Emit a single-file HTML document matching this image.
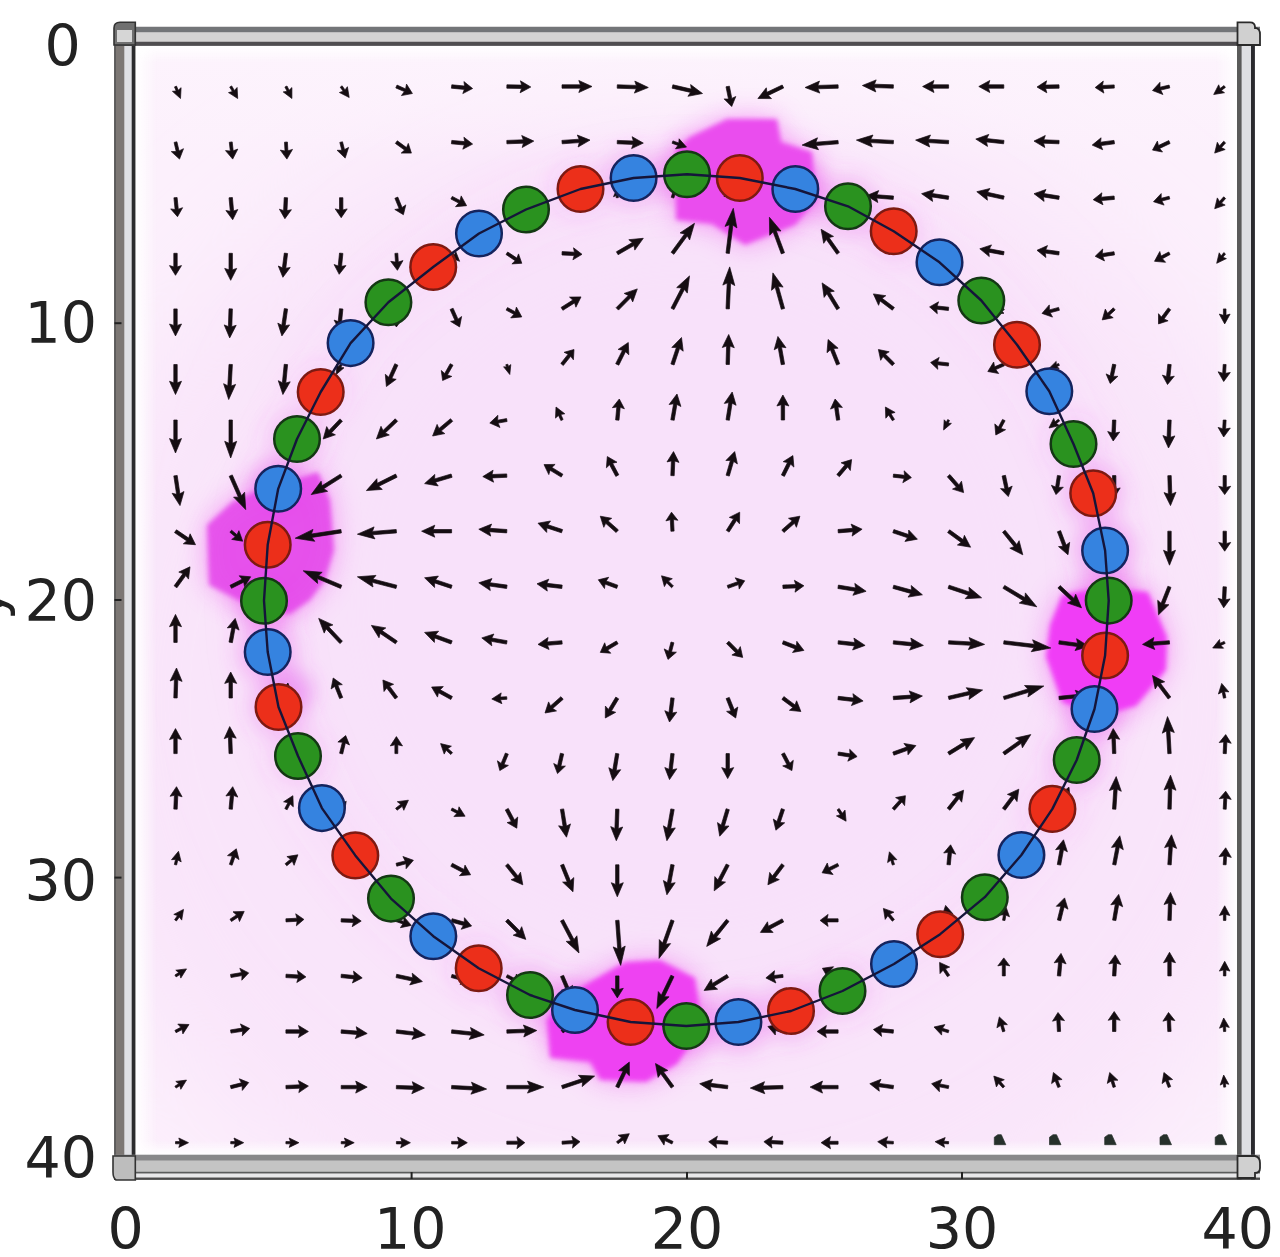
<!DOCTYPE html><html><head><meta charset="utf-8"><title>plot</title><style>html,body{margin:0;padding:0;background:#fff;overflow:hidden}svg{display:block}text{font-family:"DejaVu Sans","Liberation Sans",sans-serif;fill:#222}</style></head><body>
<svg width="1280" height="1257" viewBox="0 0 1280 1257">
<defs>
<filter id="bl1" x="-20%" y="-20%" width="140%" height="140%"><feGaussianBlur stdDeviation="2.5"/></filter>
<filter id="bl2" x="-50%" y="-50%" width="200%" height="200%"><feGaussianBlur stdDeviation="14"/></filter>
<filter id="bl3" x="-20%" y="-20%" width="140%" height="140%"><feGaussianBlur stdDeviation="22"/></filter>
<filter id="bl4" x="-30%" y="-30%" width="160%" height="160%"><feGaussianBlur stdDeviation="60"/></filter>
<filter id="bl5" x="-30%" y="-30%" width="160%" height="160%"><feGaussianBlur stdDeviation="9"/></filter>
<filter id="ar" x="-20%" y="-20%" width="140%" height="140%"><feGaussianBlur stdDeviation="0.5"/></filter>
<linearGradient id="gl" x1="0" x2="1" y1="0" y2="0"><stop offset="0" stop-color="#fff" stop-opacity="1"/><stop offset="1" stop-color="#fff" stop-opacity="0"/></linearGradient>
<linearGradient id="gr" x1="1" x2="0" y1="0" y2="0"><stop offset="0" stop-color="#fff" stop-opacity="1"/><stop offset="1" stop-color="#fff" stop-opacity="0"/></linearGradient>
<linearGradient id="gt" x1="0" x2="0" y1="0" y2="1"><stop offset="0" stop-color="#fff" stop-opacity="1"/><stop offset="1" stop-color="#fff" stop-opacity="0"/></linearGradient>
<linearGradient id="gb" x1="0" x2="0" y1="1" y2="0"><stop offset="0" stop-color="#fff" stop-opacity="1"/><stop offset="1" stop-color="#fff" stop-opacity="0"/></linearGradient>
<linearGradient id="gt2" x1="0" x2="0" y1="0" y2="1"><stop offset="0" stop-color="#fdf4fd" stop-opacity="0.9"/><stop offset="1" stop-color="#fdf4fd" stop-opacity="0"/></linearGradient>
<clipPath id="pa"><rect x="135" y="45" width="1103" height="1111"/></clipPath>
</defs>
<rect x="0" y="0" width="1280" height="1257" fill="#fff"/>
<g clip-path="url(#pa)">
<rect x="135" y="45" width="1103" height="1111" fill="#fcf0fc"/>
<ellipse cx="686" cy="700" rx="640" ry="600" fill="#f9e5fa" filter="url(#bl4)"/>
<circle cx="686" cy="601" r="400" fill="#f8e1fa" filter="url(#bl4)"/>
<rect x="135" y="45" width="1103" height="120" fill="url(#gt2)"/>
<polygon points="433.2,267.0 479.0,233.5 526.0,209.5 580.5,189.0 633.6,178.0 687.0,174.2 739.8,178.0 795.3,189.0 848.0,206.3 893.7,231.3 939.5,262.3 981.3,300.5 1017.0,344.7 1049.3,391.2 1073.5,444.0 1093.2,493.2 1105.1,550.5 1108.7,600.6 1105.1,655.5 1094.5,709.0 1076.7,760.0 1052.4,808.9 1021.4,855.0 984.8,897.2 940.2,934.2 894.0,964.0 842.5,991.0 791.0,1011.0 738.4,1022.0 686.3,1026.0 630.6,1022.0 575.0,1010.0 530.0,995.0 478.7,968.2 433.3,936.2 391.0,898.6 355.3,855.4 321.9,808.1 298.0,756.0 278.5,707.0 267.7,652.0 264.0,600.7 267.7,544.8 278.2,488.8 297.0,439.0 320.7,392.0 350.6,343.1 388.4,302.3" fill="none" stroke="#e860e8" stroke-width="50" stroke-opacity="0.05" filter="url(#bl3)"/>
<g filter="url(#bl5)">
<circle cx="580.5" cy="189.0" r="32" fill="#e850ec" opacity="0.08"/>
<circle cx="633.6" cy="178.0" r="32" fill="#e850ec" opacity="0.20"/>
<circle cx="687.0" cy="174.2" r="32" fill="#e850ec" opacity="0.35"/>
<circle cx="795.3" cy="189.0" r="32" fill="#e850ec" opacity="0.35"/>
<circle cx="848.0" cy="206.3" r="32" fill="#e850ec" opacity="0.22"/>
<circle cx="893.7" cy="231.3" r="32" fill="#e850ec" opacity="0.10"/>
<circle cx="1073.5" cy="444.0" r="32" fill="#e850ec" opacity="0.08"/>
<circle cx="1093.2" cy="493.2" r="32" fill="#e850ec" opacity="0.25"/>
<circle cx="1105.1" cy="550.5" r="32" fill="#e850ec" opacity="0.30"/>
<circle cx="1108.7" cy="600.6" r="32" fill="#e850ec" opacity="0.35"/>
<circle cx="1094.5" cy="709.0" r="32" fill="#e850ec" opacity="0.35"/>
<circle cx="1076.7" cy="760.0" r="32" fill="#e850ec" opacity="0.18"/>
<circle cx="1052.4" cy="808.9" r="32" fill="#e850ec" opacity="0.06"/>
<circle cx="842.5" cy="991.0" r="32" fill="#e850ec" opacity="0.10"/>
<circle cx="791.0" cy="1011.0" r="32" fill="#e850ec" opacity="0.20"/>
<circle cx="738.4" cy="1022.0" r="32" fill="#e850ec" opacity="0.28"/>
<circle cx="686.3" cy="1026.0" r="32" fill="#e850ec" opacity="0.35"/>
<circle cx="575.0" cy="1010.0" r="32" fill="#e850ec" opacity="0.35"/>
<circle cx="530.0" cy="995.0" r="32" fill="#e850ec" opacity="0.20"/>
<circle cx="478.7" cy="968.2" r="32" fill="#e850ec" opacity="0.08"/>
<circle cx="298.0" cy="756.0" r="32" fill="#e850ec" opacity="0.10"/>
<circle cx="278.5" cy="707.0" r="32" fill="#e850ec" opacity="0.20"/>
<circle cx="267.7" cy="652.0" r="32" fill="#e850ec" opacity="0.28"/>
<circle cx="264.0" cy="600.7" r="32" fill="#e850ec" opacity="0.35"/>
<circle cx="278.2" cy="488.8" r="32" fill="#e850ec" opacity="0.35"/>
<circle cx="297.0" cy="439.0" r="32" fill="#e850ec" opacity="0.15"/>
<circle cx="320.7" cy="392.0" r="32" fill="#e850ec" opacity="0.06"/>
<circle cx="292" cy="690" r="22" fill="#e050ec" opacity="0.35"/>
</g>
<polygon points="676,150 690,137 727,119 777,119 781,142 812,152 816,200 795,225 745,245 712,224 676,220" fill="#f050f0" opacity="0.55" filter="url(#bl2)"/>
<polygon points="1062,595 1100,588 1148,592 1167,637 1166,670 1136,706 1100,716 1062,702 1046,657 1050,625" fill="#f050f0" opacity="0.55" filter="url(#bl2)"/>
<polygon points="207,525 232,502 258,490 300,478 318,472 330,500 334,550 325,580 310,600 290,614 265,612 238,600 209,585" fill="#f050f0" opacity="0.55" filter="url(#bl2)"/>
<polygon points="561,1000 590,982 625,962 660,960 695,978 700,1012 690,1045 677,1064 646,1082 600,1080 590,1062 550,1058 547,1020" fill="#f050f0" opacity="0.55" filter="url(#bl2)"/>
<polygon points="676,150 690,137 727,119 777,119 781,142 812,152 816,200 795,225 745,245 712,224 676,220" fill="#ea4eee" opacity="1.00" filter="url(#bl1)"/>
<polygon points="1062,595 1100,588 1148,592 1167,637 1166,670 1136,706 1100,716 1062,702 1046,657 1050,625" fill="#f03cf6" opacity="1.00" filter="url(#bl1)"/>
<polygon points="207,525 232,502 258,490 300,478 318,472 330,500 334,550 325,580 310,600 290,614 265,612 238,600 209,585" fill="#e448ea" opacity="0.90" filter="url(#bl1)"/>
<polygon points="561,1000 590,982 625,962 660,960 695,978 700,1012 690,1045 677,1064 646,1082 600,1080 590,1062 550,1058 547,1020" fill="#ee42f2" opacity="1.00" filter="url(#bl1)"/>
<rect x="135" y="45" width="22" height="1111" fill="url(#gl)"/>
<rect x="1216" y="45" width="22" height="1111" fill="url(#gr)"/>
<rect x="135" y="45" width="1103" height="18" fill="url(#gt)"/>
<rect x="135" y="1140" width="1103" height="16" fill="url(#gb)"/>
<g fill="#150d12" stroke="#150d12" stroke-width="0.7" stroke-linejoin="round">
<polygon points="174.5,86.9 176.2,91.0 172.4,91.3 180.5,98.5 181.1,87.7 178.2,90.2 176.5,86.1"/>
<polygon points="174.1,142.4 176.2,151.5 171.3,151.6 179.5,159.1 183.5,148.7 179.1,150.9 176.9,141.8"/>
<polygon points="173.9,197.8 175.1,209.5 170.7,208.9 177.5,216.7 182.6,207.7 178.3,209.2 177.1,197.5"/>
<polygon points="173.8,253.3 173.8,266.8 169.5,265.6 175.5,275.3 181.5,265.6 177.2,266.8 177.2,253.3"/>
<polygon points="173.8,308.9 173.8,325.4 169.5,324.0 175.5,335.9 181.5,324.0 177.2,325.4 177.2,308.9"/>
<polygon points="173.8,364.5 173.8,382.8 169.5,381.3 175.5,394.5 181.5,381.3 177.2,382.8 177.2,364.5"/>
<polygon points="173.8,420.0 173.8,440.3 169.5,438.5 175.5,453.0 181.5,438.5 177.2,440.3 177.2,420.0"/>
<polygon points="173.8,475.9 176.6,494.3 172.1,493.3 180.0,505.6 184.0,491.5 179.9,493.8 177.2,475.4"/>
<polygon points="174.5,532.6 186.8,540.9 183.3,543.8 195.5,544.7 190.1,533.8 188.7,538.1 176.5,529.8"/>
<polygon points="176.9,587.8 185.8,575.6 188.5,579.1 190.0,566.8 178.8,572.1 183.0,573.6 174.1,585.8"/>
<polygon points="177.2,642.4 177.2,625.2 181.5,626.7 175.5,614.4 169.5,626.7 173.8,625.2 173.8,642.4"/>
<polygon points="177.2,698.0 177.8,679.7 182.1,681.4 176.5,668.0 170.1,681.0 174.4,679.5 173.8,697.9"/>
<polygon points="177.2,753.6 177.2,738.3 181.5,739.6 175.5,728.6 169.5,739.6 173.8,738.3 173.8,753.6"/>
<polygon points="177.2,809.2 177.8,795.5 182.1,796.8 176.5,786.7 170.1,796.3 174.4,795.3 173.8,809.1"/>
<polygon points="176.6,865.0 177.8,859.9 181.2,861.9 178.5,851.3 171.5,859.7 175.5,859.4 174.4,864.5"/>
<polygon points="176.4,921.0 179.4,917.0 181.7,920.1 183.5,909.4 173.8,914.4 177.5,915.6 174.6,919.7"/>
<polygon points="176.1,976.9 179.9,974.5 180.8,978.1 186.5,968.9 175.8,970.2 178.7,972.6 174.9,975.0"/>
<polygon points="176.1,1032.7 182.0,1029.6 182.9,1033.9 189.0,1024.5 177.8,1024.1 180.8,1027.3 174.9,1030.4"/>
<polygon points="176.1,1088.1 179.9,1085.7 180.8,1089.3 186.5,1080.1 175.8,1081.4 178.7,1083.8 174.9,1086.2"/>
<polygon points="175.5,1143.8 179.9,1143.8 178.8,1147.4 188.5,1142.7 178.8,1138.0 179.9,1141.6 175.5,1141.6"/>
<polygon points="229.7,87.1 232.4,91.6 228.5,92.6 237.7,98.5 237.1,87.5 234.4,90.5 231.7,85.9"/>
<polygon points="229.3,142.3 230.3,151.1 225.5,150.6 232.7,159.1 237.8,149.1 233.2,150.8 232.2,141.9"/>
<polygon points="229.0,197.8 230.3,211.3 225.9,210.5 232.7,219.7 237.8,209.5 233.6,211.0 232.4,197.5"/>
<polygon points="229.0,253.3 229.0,269.8 224.7,268.4 230.7,280.3 236.7,268.4 232.4,269.8 232.4,253.3"/>
<polygon points="229.0,308.8 228.4,326.6 224.2,324.9 229.7,337.9 236.2,325.3 231.8,326.7 232.4,308.9"/>
<polygon points="229.0,364.4 227.8,385.8 223.6,383.7 228.7,399.5 235.6,384.4 231.2,386.0 232.4,364.5"/>
<polygon points="229.0,420.0 229.0,443.3 224.7,441.3 230.7,458.0 236.7,441.3 232.4,443.3 232.4,420.0"/>
<polygon points="229.2,476.3 238.4,497.2 233.6,497.1 245.7,509.6 244.6,492.2 241.5,495.8 232.3,474.9"/>
<polygon points="229.9,532.2 235.3,536.8 231.7,539.4 242.7,541.2 238.9,530.7 237.0,534.8 231.6,530.2"/>
<polygon points="231.5,588.3 243.7,582.2 244.6,586.6 250.7,576.8 239.2,575.8 242.2,579.2 230.0,585.3"/>
<polygon points="232.4,642.7 235.1,628.0 239.1,630.1 235.2,618.4 227.3,627.9 231.8,627.4 229.0,642.1"/>
<polygon points="232.4,698.0 232.4,682.1 236.7,683.4 230.7,672.0 224.7,683.4 229.0,682.1 229.0,698.0"/>
<polygon points="232.4,753.5 231.8,737.0 236.2,738.2 229.7,726.6 224.2,738.7 228.4,737.1 229.0,753.6"/>
<polygon points="232.4,809.3 233.6,795.5 237.8,797.1 232.7,786.7 225.9,796.0 230.3,795.2 229.0,809.0"/>
<polygon points="232.1,865.2 235.0,857.0 239.0,859.6 236.3,848.8 227.5,855.6 232.2,856.1 229.4,864.3"/>
<polygon points="231.5,921.5 238.0,917.2 239.5,921.5 244.2,911.4 233.0,911.8 236.5,914.9 230.0,919.2"/>
<polygon points="231.0,977.5 242.0,975.6 241.8,980.2 248.7,972.9 239.8,968.3 241.5,972.6 230.5,974.4"/>
<polygon points="231.0,1033.1 242.6,1031.3 242.3,1035.8 249.7,1028.5 240.4,1023.9 242.1,1028.1 230.5,1029.9"/>
<polygon points="231.1,1088.7 242.1,1085.9 242.3,1090.4 248.7,1082.6 239.3,1078.8 241.4,1082.8 230.3,1085.6"/>
<polygon points="230.7,1143.8 235.1,1143.8 234.0,1147.4 243.7,1142.7 234.0,1138.0 235.1,1141.6 230.7,1141.6"/>
<polygon points="284.9,87.0 287.1,91.3 283.2,91.9 291.9,98.5 291.9,87.6 289.1,90.3 287.0,86.0"/>
<polygon points="284.5,142.2 285.0,151.0 280.3,150.1 286.9,159.1 292.5,149.4 287.9,150.8 287.4,142.0"/>
<polygon points="284.2,197.6 283.6,210.5 279.4,209.2 284.9,218.7 291.4,209.7 287.0,210.6 287.6,197.8"/>
<polygon points="284.3,253.1 282.4,267.8 278.3,266.0 282.9,277.3 290.2,267.5 285.8,268.2 287.6,253.5"/>
<polygon points="284.3,308.6 281.8,325.2 277.8,323.1 281.9,335.9 289.6,324.9 285.2,325.7 287.6,309.1"/>
<polygon points="284.2,364.3 282.4,382.7 278.3,380.7 282.9,394.5 290.2,381.8 285.8,383.0 287.6,364.6"/>
<polygon points="284.9,420.0 284.9,423.6 281.6,422.4 285.9,432.0 290.3,422.4 287.0,423.6 287.0,420.0"/>
<polygon points="285.4,474.8 283.9,475.7 283.3,472.9 277.9,480.6 287.3,479.2 285.0,477.4 286.5,476.5"/>
<polygon points="286.4,641.4 282.3,639.7 284.7,636.8 273.9,637.4 281.1,645.5 281.4,641.7 285.5,643.4"/>
<polygon points="287.2,698.2 288.1,691.7 292.1,693.4 287.9,683.0 281.3,691.9 285.5,691.3 284.7,697.8"/>
<polygon points="287.0,753.6 287.0,751.5 289.7,752.6 285.9,743.6 282.2,752.6 284.9,751.5 284.9,753.6"/>
<polygon points="287.1,809.8 290.1,803.9 293.3,806.8 292.9,795.7 283.6,801.8 287.9,802.7 284.8,808.6"/>
<polygon points="286.8,865.8 292.3,861.2 294.1,865.3 297.9,854.8 286.9,856.6 290.6,859.2 285.1,863.7"/>
<polygon points="286.0,921.9 297.1,921.3 296.4,925.8 303.9,919.4 295.7,913.8 296.9,918.2 285.9,918.8"/>
<polygon points="285.9,977.6 298.1,978.3 296.8,982.5 305.9,976.9 297.4,970.5 298.3,974.9 286.0,974.2"/>
<polygon points="285.9,1033.2 299.7,1033.2 298.5,1037.5 308.4,1031.5 298.5,1025.5 299.7,1029.8 285.9,1029.8"/>
<polygon points="286.0,1088.8 299.8,1088.2 298.8,1092.6 308.4,1086.1 298.3,1080.6 299.7,1084.8 285.9,1085.4"/>
<polygon points="285.9,1143.8 290.4,1143.8 289.2,1147.4 298.9,1142.7 289.2,1138.0 290.4,1141.6 285.9,1141.6"/>
<polygon points="340.2,87.2 343.2,91.2 339.4,92.5 349.2,97.5 347.4,86.7 345.0,89.9 342.1,85.8"/>
<polygon points="339.8,142.4 341.8,150.3 337.1,150.3 345.2,158.1 348.6,147.4 344.5,149.6 342.5,141.8"/>
<polygon points="339.5,197.7 339.5,209.9 335.2,208.9 341.2,217.7 347.2,208.9 342.9,209.9 342.9,197.7"/>
<polygon points="339.5,253.1 338.2,266.0 334.1,264.5 339.2,274.3 346.0,265.6 341.6,266.3 342.9,253.4"/>
<polygon points="339.5,308.7 338.2,321.6 334.1,320.1 339.2,329.9 346.0,321.2 341.6,321.9 342.9,309.0"/>
<polygon points="340.2,364.0 338.9,366.6 336.8,364.2 336.2,374.5 344.0,367.8 340.8,367.5 342.1,364.9"/>
<polygon points="339.9,418.9 328.9,430.5 326.7,426.6 323.2,439.0 335.4,434.8 331.4,432.9 342.4,421.2"/>
<polygon points="340.3,474.2 321.9,485.8 321.1,481.2 311.2,494.6 327.6,491.3 323.7,488.7 342.1,477.1"/>
<polygon points="340.9,529.5 311.4,534.0 313.0,529.4 295.2,538.2 314.8,541.3 311.9,537.4 341.4,532.9"/>
<polygon points="341.8,585.2 318.5,575.4 322.2,572.3 303.2,570.8 317.6,583.4 317.2,578.6 340.5,588.4"/>
<polygon points="342.4,641.2 328.6,626.5 332.9,624.9 318.7,618.4 324.2,633.1 326.1,628.9 339.9,643.6"/>
<polygon points="342.7,697.4 337.8,685.1 342.3,684.6 333.2,678.0 331.1,689.0 334.7,686.4 339.6,698.6"/>
<polygon points="342.7,754.0 345.4,742.9 349.5,745.0 345.7,735.6 337.9,742.0 342.4,742.2 339.6,753.2"/>
<polygon points="342.0,809.7 343.0,808.2 344.7,810.5 346.2,801.2 338.4,806.5 341.2,807.1 340.3,808.6"/>
<polygon points="341.6,865.7 344.2,864.4 344.6,867.6 351.2,859.8 341.0,860.4 343.3,862.5 340.7,863.8"/>
<polygon points="341.1,922.0 353.4,922.5 352.2,926.7 361.2,921.1 352.6,914.7 353.5,919.1 341.2,918.7"/>
<polygon points="341.0,977.6 353.9,978.9 352.4,983.0 362.2,977.9 353.5,971.1 354.2,975.5 341.3,974.2"/>
<polygon points="341.0,1033.2 357.0,1034.5 355.3,1038.6 367.2,1033.5 356.2,1026.7 357.2,1031.1 341.3,1029.8"/>
<polygon points="341.2,1088.8 357.1,1088.8 355.7,1093.1 367.2,1087.1 355.7,1081.1 357.1,1085.4 341.2,1085.4"/>
<polygon points="341.2,1143.8 345.6,1143.8 344.4,1147.4 354.2,1142.7 344.4,1138.0 345.6,1141.6 341.2,1141.6"/>
<polygon points="395.8,87.9 404.4,91.6 401.4,95.6 412.4,93.5 406.5,84.1 405.6,88.9 397.0,85.1"/>
<polygon points="395.4,143.4 404.6,150.1 401.2,153.1 411.4,153.1 408.3,143.4 406.5,147.6 397.3,140.8"/>
<polygon points="394.9,198.3 399.2,208.7 394.8,209.5 403.4,214.7 405.8,204.9 402.1,207.5 397.8,197.1"/>
<polygon points="394.9,253.4 395.5,262.1 390.7,261.3 397.4,270.3 403.0,260.6 398.3,262.0 397.8,253.2"/>
<polygon points="394.9,308.9 394.9,319.9 390.4,318.9 396.4,326.9 402.4,318.9 397.9,319.9 397.9,308.9"/>
<polygon points="394.8,363.7 388.7,377.2 385.3,374.3 386.4,386.5 396.2,379.3 391.8,378.6 397.9,365.2"/>
<polygon points="395.2,418.8 383.0,430.5 381.0,426.3 376.4,439.0 389.3,435.0 385.3,432.9 397.6,421.3"/>
<polygon points="395.6,474.1 377.2,483.3 376.9,478.7 366.4,490.6 382.3,489.4 378.8,486.3 397.1,477.2"/>
<polygon points="396.2,529.5 372.4,531.4 374.1,526.9 357.4,534.2 375.0,538.9 372.6,534.8 396.5,532.9"/>
<polygon points="396.8,585.2 372.9,579.0 376.0,575.4 357.4,576.8 373.0,587.0 372.1,582.3 396.0,588.5"/>
<polygon points="397.3,641.0 382.0,630.6 385.8,627.9 371.4,625.4 379.0,637.8 380.1,633.4 395.4,643.8"/>
<polygon points="397.7,697.0 389.5,685.9 393.6,684.3 382.9,680.0 384.0,691.5 386.7,688.0 395.0,699.0"/>
<polygon points="397.8,753.6 397.8,744.8 402.5,745.9 396.4,736.6 390.3,745.9 394.9,744.8 394.9,753.6"/>
<polygon points="397.1,810.2 402.3,806.3 403.8,810.3 408.4,800.2 397.3,801.7 400.8,804.3 395.6,808.2"/>
<polygon points="396.8,866.2 406.0,863.8 406.1,868.7 413.4,860.3 402.9,856.5 405.2,860.9 396.0,863.3"/>
<polygon points="396.0,921.6 402.9,923.9 400.4,927.7 411.4,925.4 404.0,916.9 403.8,921.4 396.8,919.1"/>
<polygon points="396.0,977.6 412.0,981.0 409.7,984.9 422.4,981.5 412.2,973.2 412.7,977.7 396.7,974.3"/>
<polygon points="396.2,1033.2 414.0,1035.3 411.9,1039.4 425.4,1034.9 413.3,1027.5 414.3,1031.9 396.6,1029.8"/>
<polygon points="396.3,1088.8 413.5,1089.4 411.8,1093.7 424.4,1088.1 412.3,1081.7 413.6,1086.0 396.4,1085.4"/>
<polygon points="396.4,1143.9 401.8,1143.9 400.6,1147.8 410.4,1142.7 400.6,1137.7 401.8,1141.5 396.4,1141.5"/>
<polygon points="451.4,88.2 464.3,89.4 462.8,93.6 472.6,88.5 463.9,81.6 464.6,86.0 451.8,84.8"/>
<polygon points="451.4,143.8 464.3,145.0 462.8,149.2 472.6,144.1 463.9,137.2 464.6,141.6 451.8,140.4"/>
<polygon points="450.9,199.0 458.7,203.1 455.5,206.7 466.6,205.7 461.2,195.9 460.0,200.5 452.3,196.4"/>
<polygon points="450.9,254.0 453.0,256.1 450.0,257.5 459.6,261.3 455.8,251.7 454.4,254.7 452.3,252.5"/>
<polygon points="450.1,309.5 455.0,320.6 450.6,321.4 459.6,326.9 461.6,316.5 458.0,319.2 453.1,308.2"/>
<polygon points="450.2,363.7 444.7,373.5 441.3,370.5 442.6,380.5 451.8,376.4 447.4,375.0 453.0,365.2"/>
<polygon points="450.5,418.7 438.9,428.5 437.1,424.4 432.6,436.0 444.8,433.6 441.1,431.1 452.7,421.3"/>
<polygon points="451.1,474.0 434.6,478.9 434.8,474.4 424.6,483.6 438.2,485.9 435.5,482.2 452.1,477.3"/>
<polygon points="451.6,529.5 433.2,529.5 434.8,525.2 421.6,531.2 434.8,537.2 433.2,532.9 451.6,532.9"/>
<polygon points="452.1,585.2 435.6,579.7 438.4,576.1 424.6,577.8 434.6,587.5 434.5,582.9 451.1,588.4"/>
<polygon points="452.2,640.8 435.6,634.7 438.6,631.2 424.6,632.4 434.4,642.4 434.5,637.9 451.0,644.0"/>
<polygon points="452.4,696.5 440.2,689.8 443.3,686.6 431.6,687.0 437.5,697.1 438.5,692.7 450.8,699.5"/>
<polygon points="452.5,752.6 447.8,748.4 451.4,746.2 440.6,743.6 444.2,754.1 446.1,750.3 450.8,754.5"/>
<polygon points="451.0,810.3 456.9,813.4 453.9,816.6 465.1,816.2 459.0,806.8 458.1,811.1 452.2,808.0"/>
<polygon points="450.8,866.3 462.5,872.4 459.4,875.7 470.6,874.8 465.0,865.1 464.0,869.4 452.4,863.3"/>
<polygon points="451.1,922.0 463.4,925.4 461.2,929.3 471.6,926.0 464.4,917.7 464.3,922.1 452.1,918.7"/>
<polygon points="451.2,977.5 462.2,980.5 460.1,984.5 469.6,980.9 463.3,973.0 463.1,977.5 452.0,974.4"/>
<polygon points="451.4,1033.2 471.4,1035.3 469.2,1039.4 484.2,1034.9 470.5,1027.5 471.8,1031.9 451.8,1029.8"/>
<polygon points="451.5,1088.8 473.0,1090.0 470.9,1094.2 486.6,1089.1 471.5,1082.2 473.1,1086.6 451.7,1085.4"/>
<polygon points="451.6,1144.0 458.8,1144.0 457.6,1148.4 467.3,1142.7 457.6,1137.1 458.8,1141.4 451.6,1141.4"/>
<polygon points="506.8,88.2 521.5,88.5 520.1,92.8 530.8,87.0 520.4,80.8 521.6,85.1 506.9,84.8"/>
<polygon points="506.9,143.8 523.4,143.2 522.2,147.5 533.8,141.1 521.7,135.5 523.3,139.8 506.8,140.4"/>
<polygon points="506.1,199.2 518.3,205.3 515.3,208.6 526.8,207.7 520.7,197.9 519.8,202.3 507.6,196.2"/>
<polygon points="506.0,254.5 515.2,260.7 511.9,263.9 521.8,263.3 518.5,253.9 516.9,258.1 507.7,252.0"/>
<polygon points="506.1,310.1 513.9,314.3 510.7,317.9 521.8,316.9 516.4,307.1 515.2,311.7 507.5,307.6"/>
<polygon points="505.8,364.7 506.5,367.0 503.6,366.8 509.8,374.5 510.8,364.6 508.5,366.4 507.8,364.2"/>
<polygon points="506.6,418.6 497.6,420.2 497.9,415.3 489.8,423.0 500.0,427.5 498.1,423.1 507.1,421.5"/>
<polygon points="506.7,473.9 492.0,474.5 493.1,470.2 482.8,476.6 493.6,482.2 492.2,477.9 506.9,477.3"/>
<polygon points="506.9,529.5 489.8,528.3 491.6,524.1 478.8,529.2 490.7,536.1 489.5,531.7 506.7,532.9"/>
<polygon points="507.1,585.1 489.9,582.7 492.0,578.6 478.8,582.8 490.3,590.5 489.4,586.0 506.6,588.5"/>
<polygon points="507.1,640.7 491.8,638.0 493.9,634.0 481.8,637.9 491.8,645.8 491.2,641.3 506.5,644.1"/>
<polygon points="506.7,696.7 500.3,697.1 501.2,692.9 491.8,699.0 501.9,703.7 500.5,699.7 506.9,699.3"/>
<polygon points="505.4,753.0 501.1,763.4 497.4,760.8 499.8,770.6 508.4,765.4 504.0,764.6 508.3,754.2"/>
<polygon points="505.3,810.0 511.4,821.6 507.1,822.6 516.8,828.2 517.7,817.0 514.5,820.0 508.3,808.4"/>
<polygon points="505.5,865.8 515.3,878.1 511.1,879.7 522.8,884.8 520.5,872.2 518.0,876.0 508.1,863.7"/>
<polygon points="505.6,921.6 517.3,933.2 513.2,935.2 525.8,939.4 521.7,926.7 519.7,930.8 508.0,919.1"/>
<polygon points="506.1,977.2 513.9,981.3 510.7,984.9 521.8,983.9 516.4,974.1 515.2,978.8 507.5,974.7"/>
<polygon points="506.9,1033.2 525.3,1032.6 523.8,1037.0 536.8,1030.5 523.4,1025.0 525.1,1029.2 506.8,1029.8"/>
<polygon points="506.8,1088.8 529.5,1088.8 527.5,1093.1 543.8,1087.1 527.5,1081.1 529.5,1085.4 506.8,1085.4"/>
<polygon points="506.8,1144.2 517.9,1144.2 516.9,1148.7 524.8,1142.7 516.9,1136.7 517.9,1141.2 506.8,1141.2"/>
<polygon points="562.0,88.2 580.4,88.2 578.8,92.5 592.0,86.5 578.8,80.5 580.4,84.8 562.0,84.8"/>
<polygon points="562.2,143.8 579.3,142.6 578.1,147.0 590.0,140.1 577.3,135.0 579.1,139.2 561.9,140.4"/>
<polygon points="561.8,198.7 565.5,199.6 563.6,202.7 574.0,200.7 565.7,194.0 566.0,197.6 562.3,196.7"/>
<polygon points="562.0,255.0 574.2,255.6 572.9,259.8 582.0,254.3 573.5,247.8 574.4,252.2 562.1,251.6"/>
<polygon points="562.9,310.3 574.6,302.9 575.9,307.2 581.0,296.9 569.5,297.1 572.8,300.1 561.1,307.4"/>
<polygon points="563.3,365.5 570.7,356.3 573.4,359.8 574.0,349.5 564.1,352.3 568.1,354.2 560.8,363.4"/>
<polygon points="563.1,419.5 560.8,414.4 564.8,413.8 556.0,407.0 555.5,418.1 558.5,415.4 560.9,420.6"/>
<polygon points="562.9,474.2 551.9,467.4 555.1,464.4 544.0,464.6 548.8,474.6 550.1,470.3 561.2,477.1"/>
<polygon points="562.6,529.6 547.9,524.7 550.5,521.0 538.0,523.2 546.7,532.4 546.8,527.9 561.5,532.8"/>
<polygon points="562.2,585.1 546.9,583.3 548.8,579.2 537.0,583.8 547.3,591.1 546.5,586.7 561.8,588.5"/>
<polygon points="561.9,640.7 547.2,641.9 548.1,637.5 538.0,644.4 549.1,649.5 547.5,645.3 562.2,644.1"/>
<polygon points="560.9,696.7 550.5,705.9 548.6,701.9 545.0,713.0 556.5,710.9 552.7,708.5 563.2,699.3"/>
<polygon points="560.4,753.2 557.6,765.5 553.7,763.5 557.5,773.6 565.4,766.1 560.9,766.2 563.7,754.0"/>
<polygon points="560.4,809.4 563.1,826.6 558.6,825.8 566.5,837.2 570.5,823.9 566.5,826.1 563.7,808.9"/>
<polygon points="560.5,865.4 567.2,881.9 562.6,882.1 573.0,891.8 573.8,877.6 570.4,880.7 563.6,864.1"/>
<polygon points="560.5,921.1 571.0,941.1 566.2,941.4 579.0,953.0 576.9,935.8 574.0,939.5 563.5,919.6"/>
<polygon points="560.5,976.6 566.0,989.5 561.6,990.1 571.0,996.9 572.6,985.3 569.1,988.1 563.6,975.3"/>
<polygon points="563.1,1032.9 575.3,1023.7 576.8,1027.9 582.0,1016.5 569.6,1018.3 573.3,1021.0 561.0,1030.2"/>
<polygon points="562.6,1088.7 582.6,1082.0 582.2,1086.6 594.6,1076.1 578.4,1075.3 581.5,1078.8 561.5,1085.5"/>
<polygon points="562.1,1144.2 573.2,1143.6 572.5,1148.1 580.0,1141.7 571.8,1136.2 573.0,1140.6 562.0,1141.2"/>
<polygon points="617.2,88.2 636.2,88.8 634.4,93.1 648.3,87.5 634.8,81.1 636.3,85.4 617.3,84.8"/>
<polygon points="617.2,143.8 633.1,144.4 631.6,148.6 643.3,143.1 632.1,136.7 633.3,141.0 617.3,140.4"/>
<polygon points="618.3,197.7 618.3,195.6 621.0,196.7 617.3,187.7 613.5,196.7 616.2,195.6 616.2,197.7"/>
<polygon points="618.1,254.7 634.0,245.6 634.8,250.1 643.3,238.3 628.8,239.7 632.3,242.6 616.4,251.8"/>
<polygon points="618.5,310.1 630.7,297.8 632.7,301.9 637.3,288.9 624.2,293.4 628.3,295.4 616.1,307.7"/>
<polygon points="618.8,365.2 625.5,351.7 628.8,354.8 628.3,342.5 618.1,349.4 622.5,350.2 615.7,363.7"/>
<polygon points="619.0,420.2 620.2,407.3 624.4,408.8 619.3,399.0 612.4,407.7 616.8,407.0 615.6,419.9"/>
<polygon points="618.8,474.8 612.6,463.2 617.0,462.2 607.3,456.6 606.4,467.8 609.6,464.8 615.8,476.4"/>
<polygon points="618.4,529.9 608.0,520.8 611.7,518.3 600.3,516.2 603.8,527.3 605.7,523.3 616.1,532.5"/>
<polygon points="617.8,585.2 606.2,580.9 608.7,577.3 598.3,579.8 604.5,588.5 605.0,584.1 616.7,588.4"/>
<polygon points="616.4,641.0 606.0,647.1 604.7,642.8 600.3,652.4 610.8,653.2 607.7,650.0 618.1,643.8"/>
<polygon points="615.8,697.1 608.4,709.4 605.4,706.1 605.3,718.0 615.7,712.3 611.4,711.1 618.7,698.9"/>
<polygon points="615.6,753.3 612.8,769.8 608.8,767.7 612.8,780.6 620.7,769.7 616.2,770.4 618.9,753.9"/>
<polygon points="615.6,809.1 614.9,828.4 610.7,826.6 616.3,840.7 622.7,827.0 618.3,828.5 619.0,809.2"/>
<polygon points="615.6,864.8 615.6,884.4 611.3,882.7 617.3,896.8 623.3,882.7 619.0,884.4 619.0,864.8"/>
<polygon points="615.6,920.5 617.7,948.8 613.2,946.9 620.7,965.4 625.2,946.0 621.1,948.5 619.0,920.2"/>
<polygon points="615.6,975.9 615.6,989.4 611.3,988.3 617.3,997.9 623.3,988.3 619.0,989.4 619.0,975.9"/>
<polygon points="618.3,1031.5 618.3,1029.5 621.0,1030.5 617.3,1021.5 613.5,1030.5 616.2,1029.5 616.2,1031.5"/>
<polygon points="618.8,1087.9 626.1,1072.5 629.4,1075.7 629.3,1062.1 618.6,1070.5 623.1,1071.1 615.7,1086.4"/>
<polygon points="618.0,1143.7 623.2,1139.9 624.7,1143.9 629.3,1133.7 618.2,1135.2 621.6,1137.8 616.5,1141.7"/>
<polygon points="672.1,88.2 690.5,92.4 687.9,96.3 702.5,93.5 690.6,84.6 691.3,89.1 672.9,84.8"/>
<polygon points="672.1,143.3 678.0,145.4 675.5,148.8 686.5,147.1 679.1,138.8 678.8,143.0 672.9,140.9"/>
<polygon points="673.8,198.1 676.1,191.1 679.8,193.6 677.5,182.7 669.0,190.0 673.5,190.3 671.2,197.3"/>
<polygon points="673.9,254.3 687.3,235.9 689.6,240.0 694.5,223.3 680.0,232.9 684.6,233.9 671.1,252.3"/>
<polygon points="674.0,309.6 684.4,289.4 687.3,293.1 689.5,275.9 676.7,287.6 681.4,287.9 671.0,308.1"/>
<polygon points="674.1,365.0 679.6,348.4 683.2,351.2 681.5,337.5 671.8,347.4 676.4,347.4 670.9,363.9"/>
<polygon points="674.2,420.3 676.9,404.4 680.9,406.5 677.0,394.0 669.1,404.5 673.6,403.8 670.8,419.8"/>
<polygon points="674.2,475.7 674.8,461.0 679.0,462.4 673.5,451.6 667.0,461.9 671.4,460.9 670.8,475.6"/>
<polygon points="674.1,531.1 673.5,519.5 677.9,520.3 671.5,512.2 665.9,520.9 670.3,519.7 670.9,531.3"/>
<polygon points="673.4,585.9 668.4,580.9 672.3,578.7 661.5,575.8 664.4,586.6 666.6,582.8 671.5,587.7"/>
<polygon points="671.0,642.0 668.6,651.2 664.2,648.9 668.0,659.4 676.4,652.2 671.5,652.0 673.9,642.8"/>
<polygon points="670.8,697.8 669.0,712.5 664.8,710.7 669.5,722.0 676.8,712.2 672.3,712.9 674.2,698.2"/>
<polygon points="670.8,753.4 669.0,769.3 664.8,767.5 669.5,779.6 676.8,768.8 672.3,769.7 674.2,753.8"/>
<polygon points="670.8,808.9 667.4,828.2 663.4,825.8 666.9,840.7 675.3,827.9 670.7,828.8 674.2,809.5"/>
<polygon points="670.8,864.4 667.4,882.8 663.4,880.5 666.9,894.8 675.2,882.7 670.7,883.5 674.2,865.1"/>
<polygon points="670.9,919.8 662.6,943.1 659.3,939.6 659.0,958.4 670.6,943.6 665.8,944.2 674.1,920.9"/>
<polygon points="670.9,975.2 661.3,995.2 658.3,991.6 656.8,1008.5 669.1,996.8 664.4,996.7 674.0,976.7"/>
<polygon points="672.9,1030.6 670.3,1029.3 672.7,1027.1 662.5,1026.5 669.1,1034.3 669.4,1031.1 672.0,1032.4"/>
<polygon points="673.9,1086.1 663.4,1071.7 667.8,1070.4 655.5,1063.5 658.1,1077.4 660.7,1073.7 671.1,1088.1"/>
<polygon points="673.1,1141.5 666.1,1138.1 669.0,1134.6 657.9,1135.7 664.0,1145.1 664.9,1140.6 671.9,1144.0"/>
<polygon points="726.0,86.8 728.5,99.1 724.1,98.9 731.7,106.5 735.8,96.5 731.8,98.4 729.4,86.2"/>
<polygon points="728.7,197.7 728.7,195.6 731.5,196.7 727.7,187.7 724.0,196.7 726.7,195.6 726.7,197.7"/>
<polygon points="729.4,253.5 732.9,225.1 736.9,227.9 733.3,208.3 725.0,226.4 729.5,224.7 726.0,253.1"/>
<polygon points="729.4,308.9 730.6,283.2 734.8,285.6 729.7,266.9 722.8,285.1 727.2,283.0 726.0,308.8"/>
<polygon points="729.4,364.5 730.0,346.1 734.3,347.8 728.7,334.5 722.3,347.5 726.6,346.0 726.0,364.4"/>
<polygon points="729.4,420.3 732.1,403.2 736.1,405.3 732.2,392.0 724.3,403.4 728.8,402.6 726.0,419.8"/>
<polygon points="729.3,476.1 733.6,461.4 737.4,463.9 734.7,451.6 725.9,460.5 730.4,460.4 726.1,475.2"/>
<polygon points="729.1,532.1 736.5,520.5 739.5,523.8 739.7,512.2 729.3,517.4 733.6,518.7 726.3,530.3"/>
<polygon points="728.2,588.3 738.6,584.6 739.2,589.1 744.7,580.8 735.2,577.8 737.6,581.7 727.2,585.4"/>
<polygon points="726.5,643.6 735.7,652.8 731.9,655.0 742.7,657.4 740.3,646.6 738.1,650.4 728.9,641.2"/>
<polygon points="726.1,698.6 731.0,710.9 726.6,711.4 735.7,718.0 737.8,707.0 734.2,709.6 729.3,697.4"/>
<polygon points="726.0,753.6 726.0,768.9 721.7,767.6 727.7,778.6 733.7,767.6 729.4,768.9 729.4,753.6"/>
<polygon points="726.1,808.7 721.2,825.2 717.5,822.6 719.7,836.2 729.0,826.0 724.4,826.2 729.3,809.7"/>
<polygon points="726.2,864.0 717.9,879.9 714.8,876.6 714.2,890.8 725.5,882.1 720.9,881.5 729.2,865.5"/>
<polygon points="726.4,919.3 713.5,935.2 711.3,931.1 706.7,946.4 720.6,938.7 716.2,937.4 729.0,921.4"/>
<polygon points="726.8,974.5 712.3,983.4 711.3,979.0 704.1,990.5 717.6,989.2 714.1,986.3 728.6,977.4"/>
<polygon points="728.0,1030.6 725.7,1029.9 727.6,1027.6 717.7,1028.5 725.4,1034.8 725.1,1031.8 727.4,1032.5"/>
<polygon points="727.9,1085.4 710.7,1083.3 712.7,1079.3 699.7,1083.7 711.3,1091.2 710.3,1086.7 727.5,1088.8"/>
<polygon points="727.8,1141.1 716.1,1140.5 717.4,1136.2 708.7,1141.7 716.7,1148.1 716.0,1143.7 727.6,1144.3"/>
<polygon points="782.2,85.0 766.9,92.3 766.3,87.8 757.9,98.5 771.5,98.6 768.3,95.4 783.7,88.0"/>
<polygon points="783.6,197.0 782.7,196.0 785.2,194.6 777.9,192.7 779.9,199.9 781.2,197.4 782.2,198.4"/>
<polygon points="784.5,252.7 776.2,230.6 781.0,231.0 769.4,217.3 769.7,235.2 773.1,231.8 781.3,253.9"/>
<polygon points="784.6,308.4 778.4,286.3 783.1,287.1 772.9,272.9 771.5,290.3 775.2,287.3 781.3,309.3"/>
<polygon points="784.6,364.2 781.5,347.0 786.0,347.7 777.9,336.5 774.2,349.8 778.2,347.6 781.2,364.7"/>
<polygon points="784.6,420.0 784.6,404.7 788.9,406.0 782.9,395.0 776.9,406.0 781.2,404.7 781.2,420.0"/>
<polygon points="784.4,476.4 790.6,464.1 793.9,467.1 792.9,455.6 783.2,461.7 787.5,462.6 781.4,474.9"/>
<polygon points="784.0,532.5 794.5,523.3 796.4,527.3 799.9,516.2 788.5,518.3 792.2,520.8 781.8,529.9"/>
<polygon points="783.0,588.5 795.9,587.9 795.0,592.2 803.9,585.8 794.4,580.3 795.7,584.5 782.8,585.1"/>
<polygon points="782.3,644.0 795.2,648.9 792.5,652.5 803.9,650.4 796.8,641.3 796.4,645.7 783.5,640.8"/>
<polygon points="781.9,699.4 792.9,707.6 789.4,710.3 800.9,711.5 796.6,700.8 795.0,704.9 783.9,696.6"/>
<polygon points="781.5,754.3 787.0,764.8 782.7,765.9 791.9,770.6 793.3,760.3 789.9,763.2 784.4,752.8"/>
<polygon points="781.3,808.6 777.0,821.5 773.3,819.0 775.9,830.2 784.7,822.8 780.2,822.6 784.5,809.7"/>
<polygon points="781.6,863.7 772.4,876.0 769.7,872.4 767.9,884.8 779.3,879.6 775.1,878.0 784.3,865.8"/>
<polygon points="782.1,918.9 768.3,926.2 767.5,921.8 760.4,932.4 773.1,932.4 769.9,929.2 783.7,921.9"/>
<polygon points="782.8,974.5 773.9,975.5 774.5,970.7 765.9,977.9 775.9,983.0 774.2,978.4 783.1,977.4"/>
<polygon points="783.3,1030.3 776.4,1027.9 778.9,1024.2 767.9,1026.5 775.3,1035.0 775.5,1030.5 782.5,1032.8"/>
<polygon points="782.9,1085.4 762.9,1086.0 764.5,1081.7 750.3,1088.1 764.8,1093.7 763.0,1089.4 783.0,1088.8"/>
<polygon points="783.0,1141.1 771.4,1140.5 772.6,1136.2 763.9,1141.7 772.0,1148.1 771.2,1143.7 782.8,1144.3"/>
<polygon points="838.1,84.8 817.9,85.4 819.5,81.1 805.1,87.5 819.8,93.1 818.0,88.8 838.2,88.2"/>
<polygon points="838.0,140.4 815.9,142.2 817.5,137.8 802.1,145.1 818.5,149.7 816.2,145.6 838.3,143.8"/>
<polygon points="838.5,196.7 837.0,196.2 838.8,193.9 830.1,194.7 836.2,201.0 836.3,198.1 837.8,198.6"/>
<polygon points="839.5,252.3 829.1,237.6 833.5,236.4 821.1,229.3 823.7,243.3 826.3,239.5 836.8,254.3"/>
<polygon points="839.6,308.0 829.8,292.0 834.3,291.2 822.1,282.9 824.1,297.4 826.9,293.8 836.7,309.8"/>
<polygon points="839.7,363.8 833.6,348.5 838.1,348.2 828.1,339.5 827.0,352.7 830.4,349.8 836.6,365.1"/>
<polygon points="839.8,419.8 838.0,406.9 842.4,407.4 835.1,399.0 830.5,409.1 834.6,407.4 836.5,420.3"/>
<polygon points="839.4,476.7 847.7,466.9 850.3,470.5 851.6,459.6 841.1,462.8 845.1,464.7 836.8,474.5"/>
<polygon points="838.3,532.9 853.0,531.7 852.1,536.1 862.1,529.2 851.1,524.1 852.7,528.3 838.0,529.5"/>
<polygon points="837.9,588.5 855.0,591.2 852.9,595.3 866.1,591.3 854.8,583.4 855.6,587.9 838.4,585.1"/>
<polygon points="838.0,644.1 854.5,645.9 852.6,650.0 865.1,645.4 853.9,638.1 854.9,642.5 838.3,640.7"/>
<polygon points="837.9,699.7 853.3,701.5 851.4,705.6 863.1,701.0 852.9,693.7 853.7,698.1 838.3,696.3"/>
<polygon points="837.9,755.2 849.5,757.0 847.8,761.2 857.1,756.6 849.7,749.3 850.0,753.8 838.4,752.0"/>
<polygon points="837.1,809.9 840.3,814.7 836.4,815.9 846.1,821.2 845.0,810.1 842.4,813.3 839.2,808.5"/>
<polygon points="837.5,863.4 828.6,867.8 827.3,863.0 822.1,872.8 833.1,874.5 829.9,870.6 838.8,866.1"/>
<polygon points="838.1,918.8 827.1,918.8 828.1,914.4 820.1,920.4 828.1,926.4 827.1,921.9 838.1,921.9"/>
<polygon points="838.8,974.6 830.4,970.5 833.5,966.7 822.4,968.3 828.0,978.0 829.1,973.2 837.5,977.3"/>
<polygon points="838.1,1029.8 825.3,1029.8 826.4,1025.5 817.1,1031.5 826.4,1037.5 825.3,1033.2 838.1,1033.2"/>
<polygon points="838.1,1085.4 821.0,1085.4 822.5,1081.1 810.1,1087.1 822.5,1093.1 821.0,1088.8 838.1,1088.8"/>
<polygon points="838.1,1141.3 829.4,1141.3 830.5,1136.6 821.1,1142.7 830.5,1148.8 829.4,1144.2 838.1,1144.2"/>
<polygon points="893.4,84.8 874.4,84.2 876.2,79.9 862.4,85.5 875.8,91.9 874.3,87.6 893.3,88.2"/>
<polygon points="893.5,140.4 870.8,139.2 873.0,135.0 856.4,140.1 872.3,147.0 870.6,142.6 893.3,143.8"/>
<polygon points="893.5,196.0 876.9,194.8 878.7,190.6 866.4,195.7 877.8,202.5 876.7,198.1 893.2,199.4"/>
<polygon points="894.1,252.5 892.0,250.4 894.9,249.1 885.4,245.3 889.2,254.8 890.5,251.9 892.6,254.0"/>
<polygon points="894.4,307.5 882.1,298.3 885.8,295.7 873.4,293.9 878.6,305.3 880.1,301.0 892.3,310.2"/>
<polygon points="894.6,363.2 885.4,354.1 889.2,351.8 878.4,349.5 880.7,360.3 883.0,356.5 892.2,365.7"/>
<polygon points="894.5,419.4 890.9,413.6 895.1,412.4 885.4,407.0 885.8,418.2 888.7,415.0 892.3,420.7"/>
<polygon points="893.2,477.2 904.2,478.4 902.8,482.7 911.4,477.6 904.1,470.8 904.6,475.3 893.5,474.1"/>
<polygon points="892.8,532.8 907.5,537.7 904.9,541.4 917.4,539.2 908.7,530.0 908.6,534.5 893.9,529.6"/>
<polygon points="892.9,588.4 910.7,593.4 908.0,597.1 922.4,594.8 911.2,585.5 911.6,590.1 893.8,585.2"/>
<polygon points="893.2,644.1 911.6,645.9 909.6,650.1 923.4,645.4 910.8,638.1 911.9,642.5 893.5,640.7"/>
<polygon points="893.5,699.7 911.2,698.5 910.0,702.9 922.4,696.0 909.2,690.9 911.0,695.1 893.2,696.3"/>
<polygon points="893.9,755.2 907.7,750.3 908.0,754.8 915.9,745.6 903.9,743.4 906.6,747.1 892.8,752.0"/>
<polygon points="894.5,810.2 901.9,801.9 904.6,805.6 905.4,795.7 895.6,797.6 899.6,799.9 892.2,808.2"/>
<polygon points="894.5,864.4 893.0,859.7 896.9,859.7 889.4,851.8 887.6,862.6 890.8,860.3 892.3,865.1"/>
<polygon points="894.4,919.5 889.8,914.0 893.9,912.2 883.4,908.4 885.2,919.4 887.8,915.7 892.3,921.2"/>
<polygon points="893.9,975.1 892.4,974.1 894.7,972.4 885.4,970.9 890.7,978.7 891.3,975.9 892.8,976.8"/>
<polygon points="893.5,1029.8 881.3,1028.6 882.8,1024.4 873.4,1029.5 881.6,1036.4 880.9,1032.0 893.2,1033.2"/>
<polygon points="893.6,1085.4 879.1,1083.4 881.0,1079.3 869.8,1083.7 879.3,1091.2 878.7,1086.7 893.1,1088.8"/>
<polygon points="893.4,1141.4 886.2,1140.9 887.7,1136.7 877.7,1141.7 886.9,1148.0 886.0,1143.6 893.3,1144.0"/>
<polygon points="948.6,84.8 932.6,84.8 934.0,80.5 922.6,86.5 934.0,92.5 932.6,88.2 948.6,88.2"/>
<polygon points="948.7,140.4 928.5,139.2 930.5,135.0 915.6,140.1 929.7,147.0 928.3,142.6 948.5,143.8"/>
<polygon points="948.8,196.0 932.3,193.5 934.3,189.5 921.6,193.7 932.6,201.4 931.8,196.9 948.3,199.4"/>
<polygon points="948.8,252.0 942.2,250.7 944.2,246.8 933.6,250.3 942.0,257.6 941.7,253.2 948.3,254.5"/>
<polygon points="948.7,307.2 937.1,306.0 938.6,301.8 929.6,306.9 937.3,313.7 936.8,309.2 948.4,310.5"/>
<polygon points="948.7,362.9 937.7,361.7 939.2,357.4 930.6,362.5 937.8,369.3 937.4,364.8 948.4,366.0"/>
<polygon points="947.7,419.6 946.4,422.2 944.2,419.8 943.6,430.0 951.4,423.4 948.2,423.1 949.5,420.5"/>
<polygon points="947.3,476.8 956.5,487.2 952.5,489.1 963.6,492.6 961.5,481.2 959.0,484.9 949.9,474.5"/>
<polygon points="947.6,532.6 961.1,542.4 957.4,545.0 970.6,547.2 964.4,535.3 963.1,539.6 949.6,529.8"/>
<polygon points="948.0,588.4 968.3,595.2 965.2,598.7 981.6,597.8 969.0,587.3 969.3,591.9 949.1,585.2"/>
<polygon points="948.5,644.1 970.5,645.3 968.4,649.5 984.6,644.4 969.1,637.5 970.7,641.9 948.7,640.7"/>
<polygon points="949.0,699.6 969.8,694.7 969.0,699.4 982.6,690.0 966.2,687.7 969.0,691.4 948.2,696.3"/>
<polygon points="949.5,755.0 965.4,745.2 966.3,749.7 974.6,737.6 960.0,739.5 963.6,742.3 947.7,752.1"/>
<polygon points="949.9,810.2 959.1,798.6 961.7,802.2 963.6,790.2 952.3,794.8 956.4,796.5 947.2,808.1"/>
<polygon points="950.3,864.9 951.5,852.7 955.7,854.2 950.6,844.8 943.7,853.0 948.1,852.3 946.9,864.6"/>
<polygon points="949.9,920.1 948.5,913.5 952.9,913.8 945.6,905.4 942.1,916.0 946.0,914.0 947.3,920.6"/>
<polygon points="949.7,975.2 945.4,968.7 949.7,967.1 939.6,962.4 940.0,973.6 943.1,970.2 947.4,976.7"/>
<polygon points="949.0,1030.3 942.5,1028.3 944.9,1024.6 934.0,1027.0 941.6,1035.1 941.8,1030.8 948.2,1032.8"/>
<polygon points="948.9,1085.7 939.8,1083.9 941.9,1079.4 931.6,1083.7 939.4,1091.7 939.3,1086.8 948.3,1088.6"/>
<polygon points="948.7,1141.6 943.8,1141.2 945.2,1137.6 935.1,1141.7 944.5,1147.3 943.6,1143.5 948.5,1143.9"/>
<polygon points="1003.8,84.8 988.5,84.8 989.8,80.5 978.8,86.5 989.8,92.5 988.5,88.2 1003.8,88.2"/>
<polygon points="1004.0,140.4 986.8,138.6 988.8,134.4 975.8,139.1 987.5,146.4 986.5,141.9 1003.6,143.8"/>
<polygon points="1004.2,196.0 987.6,192.3 990.0,188.5 976.8,191.7 987.4,200.2 986.9,195.7 1003.4,199.3"/>
<polygon points="1004.1,251.6 989.4,248.8 991.5,244.9 979.8,248.8 989.3,256.6 988.8,252.2 1003.5,254.9"/>
<polygon points="1003.3,307.9 1000.7,309.2 1000.4,306.1 993.8,313.9 1004.0,313.3 1001.7,311.1 1004.3,309.8"/>
<polygon points="1003.2,363.1 994.6,366.8 993.7,362.0 987.8,371.5 998.7,373.5 995.8,369.6 1004.4,365.8"/>
<polygon points="1002.5,419.4 998.4,427.1 994.8,423.9 995.8,435.0 1005.6,429.7 1000.9,428.5 1005.1,420.7"/>
<polygon points="1002.1,476.0 1004.9,488.9 1000.5,488.6 1008.3,496.6 1012.2,486.1 1008.2,488.1 1005.5,475.3"/>
<polygon points="1002.5,532.3 1014.1,546.7 1009.8,548.2 1022.8,554.8 1019.1,540.7 1016.8,544.6 1005.1,530.2"/>
<polygon points="1002.9,588.3 1023.1,600.5 1019.2,603.1 1036.8,606.8 1025.4,592.9 1024.9,597.6 1004.7,585.4"/>
<polygon points="1003.6,644.1 1034.0,647.7 1031.2,651.7 1050.8,648.0 1032.6,639.8 1034.4,644.3 1004.0,640.7"/>
<polygon points="1004.3,699.6 1028.8,692.3 1027.9,697.0 1043.8,686.0 1024.5,685.5 1027.8,689.0 1003.3,696.4"/>
<polygon points="1004.8,755.0 1021.3,743.3 1022.4,747.8 1030.8,734.6 1015.5,738.0 1019.4,740.5 1002.8,752.2"/>
<polygon points="1005.2,810.2 1014.4,797.9 1017.0,801.6 1018.8,789.2 1007.4,794.4 1011.6,795.9 1002.4,808.2"/>
<polygon points="1005.1,865.0 1006.4,858.4 1010.3,860.4 1006.8,849.8 999.5,858.2 1003.8,857.9 1002.5,864.5"/>
<polygon points="1005.0,920.5 1005.8,915.1 1009.5,916.8 1005.8,906.4 999.4,915.3 1003.4,914.7 1002.6,920.2"/>
<polygon points="1005.3,975.9 1005.3,964.9 1009.8,965.9 1003.8,957.9 997.8,965.9 1002.3,964.9 1002.3,975.9"/>
<polygon points="1005.0,1031.1 1003.1,1024.7 1007.4,1024.6 999.3,1016.9 996.9,1027.8 1000.6,1025.5 1002.6,1031.9"/>
<polygon points="1004.7,1086.3 1000.5,1081.6 1004.3,1079.7 993.8,1076.1 996.4,1086.9 998.6,1083.3 1002.9,1088.0"/>
<polygon points="994.3,1144.7 994.3,1137.2 997.8,1134.7 1001.3,1134.7 1005.8,1144.7" fill="#26302b" stroke="#26302b"/>
<polygon points="1059.0,84.8 1045.5,85.1 1046.6,80.8 1037.0,87.0 1046.8,92.8 1045.6,88.5 1059.1,88.2"/>
<polygon points="1059.1,140.4 1043.8,139.8 1045.3,135.5 1034.0,141.1 1044.8,147.5 1043.6,143.2 1059.0,143.8"/>
<polygon points="1059.3,196.0 1044.0,193.6 1046.0,189.5 1034.0,193.7 1044.1,201.4 1043.4,196.9 1058.8,199.4"/>
<polygon points="1059.2,251.6 1045.8,249.7 1047.5,245.6 1037.0,250.3 1045.9,257.5 1045.3,253.1 1058.8,255.0"/>
<polygon points="1058.6,307.4 1049.4,309.9 1049.3,304.9 1042.0,313.4 1052.5,317.1 1050.2,312.7 1059.4,310.3"/>
<polygon points="1058.6,363.5 1056.2,364.5 1056.2,361.4 1049.0,368.5 1059.1,368.6 1057.0,366.4 1059.4,365.4"/>
<polygon points="1058.3,419.2 1055.0,421.8 1053.7,418.4 1049.0,428.0 1059.5,425.6 1056.4,423.5 1059.7,420.9"/>
<polygon points="1057.4,475.4 1055.6,487.0 1051.4,485.3 1056.0,494.6 1063.3,487.2 1058.8,487.5 1060.6,475.9"/>
<polygon points="1057.4,531.8 1062.9,546.3 1058.5,546.6 1068.0,554.8 1069.7,542.3 1066.1,545.1 1060.6,530.6"/>
<polygon points="1057.9,588.1 1071.6,600.9 1067.5,603.0 1081.5,607.8 1075.7,594.2 1074.0,598.4 1060.2,585.6"/>
<polygon points="1058.8,644.1 1077.2,646.5 1075.0,650.6 1089.0,646.4 1076.6,638.7 1077.6,643.2 1059.2,640.7"/>
<polygon points="1059.2,699.7 1077.6,697.8 1076.4,702.3 1089.0,695.0 1075.2,690.3 1077.2,694.5 1058.9,696.3"/>
<polygon points="1059.4,754.9 1066.4,752.5 1066.7,757.0 1074.0,748.6 1063.1,746.2 1065.6,750.0 1058.6,752.3"/>
<polygon points="1060.6,809.9 1066.7,796.4 1070.1,799.3 1069.0,787.2 1059.2,794.4 1063.6,795.0 1057.5,808.5"/>
<polygon points="1060.7,865.1 1063.5,849.7 1067.4,851.8 1063.5,839.8 1055.6,849.7 1060.1,849.1 1057.3,864.5"/>
<polygon points="1060.7,920.8 1064.1,907.0 1068.0,909.2 1064.6,897.9 1056.3,906.3 1060.8,906.2 1057.4,919.9"/>
<polygon points="1060.7,976.1 1061.9,962.3 1066.1,963.9 1061.0,953.4 1054.2,962.8 1058.6,962.0 1057.3,975.8"/>
<polygon points="1060.6,1031.4 1060.0,1019.8 1064.5,1020.6 1058.0,1012.5 1052.5,1021.2 1056.8,1020.0 1057.4,1031.6"/>
<polygon points="1060.3,1086.6 1057.7,1080.0 1062.1,1079.5 1053.4,1072.5 1051.6,1083.6 1055.2,1080.9 1057.8,1087.6"/>
<polygon points="1049.5,1144.7 1049.5,1137.2 1053.0,1134.7 1056.5,1134.7 1061.0,1144.7" fill="#26302b" stroke="#26302b"/>
<polygon points="1114.2,84.9 1102.5,85.5 1103.3,81.1 1095.2,87.5 1103.9,93.1 1102.7,88.7 1114.3,88.1"/>
<polygon points="1114.0,140.4 1100.5,142.2 1101.1,137.8 1092.2,145.1 1102.7,149.7 1101.0,145.6 1114.5,143.8"/>
<polygon points="1114.1,196.0 1101.2,197.2 1101.9,192.8 1093.2,199.7 1103.0,204.8 1101.5,200.6 1114.4,199.4"/>
<polygon points="1114.0,251.7 1102.3,253.5 1102.7,249.0 1095.2,256.3 1104.5,260.9 1102.9,256.7 1114.5,254.9"/>
<polygon points="1113.3,307.8 1107.5,313.2 1105.3,309.1 1102.2,319.9 1113.2,317.7 1109.4,315.2 1115.2,309.9"/>
<polygon points="1112.6,364.1 1110.2,375.8 1106.1,373.9 1110.2,383.5 1117.9,376.3 1113.4,376.4 1115.9,364.8"/>
<polygon points="1112.5,420.0 1111.9,432.8 1107.7,431.5 1113.2,441.0 1119.7,432.1 1115.3,433.0 1115.9,420.1"/>
<polygon points="1112.5,475.6 1112.5,489.1 1108.2,487.9 1114.2,497.6 1120.2,487.9 1115.9,489.1 1115.9,475.6"/>
<polygon points="1112.6,531.0 1110.7,543.2 1106.6,541.5 1111.2,551.2 1118.5,543.3 1114.1,543.7 1115.9,531.5"/>
<polygon points="1113.0,586.8 1113.0,593.2 1108.8,592.1 1114.2,601.8 1119.6,592.1 1115.5,593.2 1115.5,586.8"/>
<polygon points="1113.9,641.4 1111.7,642.1 1111.9,639.2 1104.2,645.4 1114.1,646.4 1112.3,644.1 1114.5,643.4"/>
<polygon points="1113.4,696.7 1104.2,702.8 1102.5,698.6 1099.2,708.0 1109.2,708.6 1105.9,705.4 1115.1,699.3"/>
<polygon points="1115.9,753.5 1115.3,738.2 1119.7,739.3 1113.2,728.6 1107.7,739.8 1111.9,738.3 1112.5,753.6"/>
<polygon points="1115.9,809.3 1117.2,789.3 1121.3,791.3 1116.2,776.6 1109.4,790.5 1113.8,789.1 1112.5,809.1"/>
<polygon points="1115.9,865.1 1119.3,847.3 1123.3,849.7 1119.8,835.8 1111.5,847.4 1116.0,846.7 1112.6,864.4"/>
<polygon points="1115.9,920.6 1118.7,904.7 1122.7,906.8 1118.7,894.4 1110.8,904.8 1115.3,904.1 1112.6,920.1"/>
<polygon points="1115.9,976.0 1116.6,963.2 1120.8,964.5 1115.2,954.9 1108.8,963.9 1113.2,963.0 1112.5,975.9"/>
<polygon points="1115.9,1031.5 1115.9,1019.3 1120.2,1020.3 1114.2,1011.5 1108.2,1020.3 1112.5,1019.3 1112.5,1031.5"/>
<polygon points="1115.5,1086.7 1113.5,1080.3 1117.9,1080.2 1109.7,1072.5 1107.3,1083.4 1111.0,1081.1 1113.0,1087.5"/>
<polygon points="1104.7,1144.7 1104.7,1137.2 1108.2,1134.7 1111.7,1134.7 1116.2,1144.7" fill="#26302b" stroke="#26302b"/>
<polygon points="1169.1,85.1 1160.0,87.2 1160.0,82.3 1152.5,90.5 1162.9,94.5 1160.7,90.1 1169.8,87.9"/>
<polygon points="1168.8,140.6 1158.4,145.5 1157.4,141.1 1152.5,150.1 1162.5,152.0 1159.7,148.4 1170.1,143.5"/>
<polygon points="1169.1,196.3 1161.2,198.3 1161.2,193.6 1153.5,201.7 1164.1,205.1 1161.9,201.0 1169.8,199.0"/>
<polygon points="1168.8,252.0 1161.0,256.1 1159.8,251.5 1154.5,261.3 1165.6,262.3 1162.4,258.7 1170.1,254.5"/>
<polygon points="1168.2,307.9 1161.4,317.1 1158.5,313.7 1158.5,323.9 1168.1,320.8 1164.0,319.0 1170.7,309.8"/>
<polygon points="1167.8,364.3 1166.5,376.5 1162.4,375.1 1167.5,384.5 1174.3,376.2 1169.9,376.9 1171.2,364.6"/>
<polygon points="1167.8,420.0 1167.1,437.1 1162.9,435.5 1168.5,448.0 1174.9,435.9 1170.5,437.3 1171.2,420.1"/>
<polygon points="1167.8,475.7 1168.4,494.1 1164.0,492.6 1170.5,505.6 1176.0,492.2 1171.8,494.0 1171.2,475.6"/>
<polygon points="1167.8,531.2 1167.8,552.1 1163.5,550.3 1169.5,565.2 1175.5,550.3 1171.2,552.1 1171.2,531.2"/>
<polygon points="1167.9,586.2 1161.1,603.3 1157.7,600.3 1158.5,614.8 1168.9,604.7 1164.3,604.6 1171.0,587.4"/>
<polygon points="1169.3,640.7 1152.8,641.9 1153.9,637.5 1142.5,644.4 1154.8,649.5 1153.0,645.3 1169.6,644.1"/>
<polygon points="1170.8,697.0 1160.4,683.2 1164.7,681.8 1152.5,675.5 1155.2,689.0 1157.7,685.2 1168.1,699.0"/>
<polygon points="1171.2,753.5 1169.9,730.8 1174.3,732.5 1167.5,716.6 1162.3,733.2 1166.5,731.0 1167.8,753.7"/>
<polygon points="1171.2,809.2 1171.8,788.4 1176.0,790.3 1170.5,775.2 1164.0,790.0 1168.4,788.3 1167.8,809.1"/>
<polygon points="1171.2,864.9 1172.4,846.5 1176.6,848.4 1171.5,834.8 1164.6,847.6 1169.0,846.3 1167.8,864.6"/>
<polygon points="1171.2,920.4 1171.8,903.3 1176.0,904.9 1170.5,892.4 1164.0,904.5 1168.4,903.1 1167.8,920.3"/>
<polygon points="1171.2,975.9 1171.2,961.5 1175.5,962.7 1169.5,952.3 1163.5,962.7 1167.8,961.5 1167.8,975.9"/>
<polygon points="1171.1,1031.4 1170.5,1019.8 1174.9,1020.6 1168.5,1012.5 1162.9,1021.2 1167.2,1020.0 1167.8,1031.6"/>
<polygon points="1170.7,1086.6 1168.1,1080.0 1172.6,1079.5 1163.9,1072.5 1162.1,1083.6 1165.7,1080.9 1168.2,1087.6"/>
<polygon points="1160.0,1144.7 1160.0,1137.2 1163.5,1134.7 1167.0,1134.7 1171.5,1144.7" fill="#26302b" stroke="#26302b"/>
<polygon points="1224.0,85.6 1220.0,88.5 1218.7,84.8 1213.7,94.5 1224.5,92.7 1221.3,90.4 1225.4,87.4"/>
<polygon points="1223.7,141.2 1219.5,145.9 1217.3,142.3 1214.7,153.1 1225.2,149.5 1221.4,147.6 1225.6,142.9"/>
<polygon points="1223.7,196.8 1219.5,201.5 1217.3,197.9 1214.7,208.7 1225.2,205.1 1221.4,203.2 1225.6,198.5"/>
<polygon points="1223.8,252.6 1221.2,255.9 1219.2,252.8 1216.7,263.3 1226.4,258.6 1222.9,257.3 1225.5,254.0"/>
<polygon points="1223.4,308.9 1223.4,315.3 1219.3,314.1 1224.7,323.9 1230.1,314.1 1226.0,315.3 1226.0,308.9"/>
<polygon points="1223.2,364.4 1222.7,373.2 1218.1,371.8 1223.7,381.5 1230.3,372.5 1225.6,373.3 1226.1,364.5"/>
<polygon points="1223.2,420.0 1222.7,428.7 1218.1,427.4 1223.7,437.0 1230.3,428.1 1225.6,428.9 1226.1,420.1"/>
<polygon points="1223.1,475.6 1223.1,487.3 1218.7,486.3 1224.7,494.6 1230.7,486.3 1226.3,487.3 1226.3,475.6"/>
<polygon points="1223.0,531.2 1223.0,543.5 1218.7,542.4 1224.7,551.2 1230.7,542.4 1226.4,543.5 1226.4,531.2"/>
<polygon points="1223.0,586.7 1222.4,599.6 1218.1,598.3 1223.7,607.8 1230.1,598.9 1225.8,599.8 1226.4,586.9"/>
<polygon points="1224.2,641.4 1220.0,643.3 1219.5,639.5 1212.7,648.0 1223.6,648.2 1220.9,645.4 1225.2,643.4"/>
<polygon points="1225.9,697.7 1224.6,691.5 1228.9,691.9 1221.7,683.4 1218.4,694.0 1222.2,692.1 1223.4,698.2"/>
<polygon points="1226.3,753.7 1226.9,742.0 1231.2,743.3 1225.7,734.6 1219.2,742.6 1223.7,741.9 1223.1,753.5"/>
<polygon points="1226.2,809.3 1226.8,798.2 1231.2,799.4 1225.7,791.2 1219.2,798.8 1223.8,798.1 1223.2,809.1"/>
<polygon points="1226.1,864.8 1226.6,856.1 1231.3,857.4 1225.7,847.8 1219.0,856.7 1223.8,855.9 1223.2,864.7"/>
<polygon points="1225.9,920.4 1225.9,914.4 1229.9,915.5 1224.7,905.8 1219.4,915.5 1223.4,914.4 1223.4,920.4"/>
<polygon points="1225.9,975.9 1225.9,969.9 1229.9,971.1 1224.7,961.3 1219.4,971.1 1223.4,969.9 1223.4,975.9"/>
<polygon points="1225.8,1031.4 1225.5,1026.5 1229.3,1027.4 1223.7,1018.0 1219.5,1028.2 1223.2,1026.7 1223.5,1031.6"/>
<polygon points="1225.7,1087.0 1225.4,1083.5 1228.8,1084.3 1223.7,1075.1 1220.2,1085.1 1223.4,1083.6 1223.7,1087.2"/>
<polygon points="1215.2,1144.7 1215.2,1137.2 1218.7,1134.7 1222.2,1134.7 1226.7,1144.7" fill="#26302b" stroke="#26302b"/>
</g>
<circle cx="433.2" cy="267.0" r="22.8" fill="#ec2f1a" stroke="#7d1a12" stroke-width="2.5"/>
<circle cx="479.0" cy="233.5" r="22.8" fill="#3583e0" stroke="#15245e" stroke-width="2.5"/>
<circle cx="526.0" cy="209.5" r="22.8" fill="#2a921f" stroke="#143814" stroke-width="2.5"/>
<circle cx="580.5" cy="189.0" r="22.8" fill="#ec2f1a" stroke="#7d1a12" stroke-width="2.5"/>
<circle cx="633.6" cy="178.0" r="22.8" fill="#3583e0" stroke="#15245e" stroke-width="2.5"/>
<circle cx="687.0" cy="174.2" r="22.8" fill="#2a921f" stroke="#143814" stroke-width="2.5"/>
<circle cx="739.8" cy="178.0" r="22.8" fill="#ec2f1a" stroke="#7d1a12" stroke-width="2.5"/>
<circle cx="795.3" cy="189.0" r="22.8" fill="#3583e0" stroke="#15245e" stroke-width="2.5"/>
<circle cx="848.0" cy="206.3" r="22.8" fill="#2a921f" stroke="#143814" stroke-width="2.5"/>
<circle cx="893.7" cy="231.3" r="22.8" fill="#ec2f1a" stroke="#7d1a12" stroke-width="2.5"/>
<circle cx="939.5" cy="262.3" r="22.8" fill="#3583e0" stroke="#15245e" stroke-width="2.5"/>
<circle cx="981.3" cy="300.5" r="22.8" fill="#2a921f" stroke="#143814" stroke-width="2.5"/>
<circle cx="1017.0" cy="344.7" r="22.8" fill="#ec2f1a" stroke="#7d1a12" stroke-width="2.5"/>
<circle cx="1049.3" cy="391.2" r="22.8" fill="#3583e0" stroke="#15245e" stroke-width="2.5"/>
<circle cx="1073.5" cy="444.0" r="22.8" fill="#2a921f" stroke="#143814" stroke-width="2.5"/>
<circle cx="1093.2" cy="493.2" r="22.8" fill="#ec2f1a" stroke="#7d1a12" stroke-width="2.5"/>
<circle cx="1105.1" cy="550.5" r="22.8" fill="#3583e0" stroke="#15245e" stroke-width="2.5"/>
<circle cx="1108.7" cy="600.6" r="22.8" fill="#2a921f" stroke="#143814" stroke-width="2.5"/>
<circle cx="1105.1" cy="655.5" r="22.8" fill="#ec2f1a" stroke="#7d1a12" stroke-width="2.5"/>
<circle cx="1094.5" cy="709.0" r="22.8" fill="#3583e0" stroke="#15245e" stroke-width="2.5"/>
<circle cx="1076.7" cy="760.0" r="22.8" fill="#2a921f" stroke="#143814" stroke-width="2.5"/>
<circle cx="1052.4" cy="808.9" r="22.8" fill="#ec2f1a" stroke="#7d1a12" stroke-width="2.5"/>
<circle cx="1021.4" cy="855.0" r="22.8" fill="#3583e0" stroke="#15245e" stroke-width="2.5"/>
<circle cx="984.8" cy="897.2" r="22.8" fill="#2a921f" stroke="#143814" stroke-width="2.5"/>
<circle cx="940.2" cy="934.2" r="22.8" fill="#ec2f1a" stroke="#7d1a12" stroke-width="2.5"/>
<circle cx="894.0" cy="964.0" r="22.8" fill="#3583e0" stroke="#15245e" stroke-width="2.5"/>
<circle cx="842.5" cy="991.0" r="22.8" fill="#2a921f" stroke="#143814" stroke-width="2.5"/>
<circle cx="791.0" cy="1011.0" r="22.8" fill="#ec2f1a" stroke="#7d1a12" stroke-width="2.5"/>
<circle cx="738.4" cy="1022.0" r="22.8" fill="#3583e0" stroke="#15245e" stroke-width="2.5"/>
<circle cx="686.3" cy="1026.0" r="22.8" fill="#2a921f" stroke="#143814" stroke-width="2.5"/>
<circle cx="630.6" cy="1022.0" r="22.8" fill="#ec2f1a" stroke="#7d1a12" stroke-width="2.5"/>
<circle cx="575.0" cy="1010.0" r="22.8" fill="#3583e0" stroke="#15245e" stroke-width="2.5"/>
<circle cx="530.0" cy="995.0" r="22.8" fill="#2a921f" stroke="#143814" stroke-width="2.5"/>
<circle cx="478.7" cy="968.2" r="22.8" fill="#ec2f1a" stroke="#7d1a12" stroke-width="2.5"/>
<circle cx="433.3" cy="936.2" r="22.8" fill="#3583e0" stroke="#15245e" stroke-width="2.5"/>
<circle cx="391.0" cy="898.6" r="22.8" fill="#2a921f" stroke="#143814" stroke-width="2.5"/>
<circle cx="355.3" cy="855.4" r="22.8" fill="#ec2f1a" stroke="#7d1a12" stroke-width="2.5"/>
<circle cx="321.9" cy="808.1" r="22.8" fill="#3583e0" stroke="#15245e" stroke-width="2.5"/>
<circle cx="298.0" cy="756.0" r="22.8" fill="#2a921f" stroke="#143814" stroke-width="2.5"/>
<circle cx="278.5" cy="707.0" r="22.8" fill="#ec2f1a" stroke="#7d1a12" stroke-width="2.5"/>
<circle cx="267.7" cy="652.0" r="22.8" fill="#3583e0" stroke="#15245e" stroke-width="2.5"/>
<circle cx="264.0" cy="600.7" r="22.8" fill="#2a921f" stroke="#143814" stroke-width="2.5"/>
<circle cx="267.7" cy="544.8" r="22.8" fill="#ec2f1a" stroke="#7d1a12" stroke-width="2.5"/>
<circle cx="278.2" cy="488.8" r="22.8" fill="#3583e0" stroke="#15245e" stroke-width="2.5"/>
<circle cx="297.0" cy="439.0" r="22.8" fill="#2a921f" stroke="#143814" stroke-width="2.5"/>
<circle cx="320.7" cy="392.0" r="22.8" fill="#ec2f1a" stroke="#7d1a12" stroke-width="2.5"/>
<circle cx="350.6" cy="343.1" r="22.8" fill="#3583e0" stroke="#15245e" stroke-width="2.5"/>
<circle cx="388.4" cy="302.3" r="22.8" fill="#2a921f" stroke="#143814" stroke-width="2.5"/>
<polygon points="433.2,267.0 479.0,233.5 526.0,209.5 580.5,189.0 633.6,178.0 687.0,174.2 739.8,178.0 795.3,189.0 848.0,206.3 893.7,231.3 939.5,262.3 981.3,300.5 1017.0,344.7 1049.3,391.2 1073.5,444.0 1093.2,493.2 1105.1,550.5 1108.7,600.6 1105.1,655.5 1094.5,709.0 1076.7,760.0 1052.4,808.9 1021.4,855.0 984.8,897.2 940.2,934.2 894.0,964.0 842.5,991.0 791.0,1011.0 738.4,1022.0 686.3,1026.0 630.6,1022.0 575.0,1010.0 530.0,995.0 478.7,968.2 433.3,936.2 391.0,898.6 355.3,855.4 321.9,808.1 298.0,756.0 278.5,707.0 267.7,652.0 264.0,600.7 267.7,544.8 278.2,488.8 297.0,439.0 320.7,392.0 350.6,343.1 388.4,302.3" fill="none" stroke="#15153a" stroke-width="2.4" stroke-linejoin="round"/>
</g>
<rect x="114.2" y="27" width="21.1" height="1153" fill="#7c7774"/>
<rect x="114.2" y="27" width="1.6" height="1153" fill="#555"/>
<rect x="124.3" y="27" width="7.5" height="1153" fill="#dfe0e4"/>
<rect x="131.8" y="27" width="3.5" height="1153" fill="#2b2b2d"/>
<rect x="1237" y="27" width="18" height="1153" fill="#dedfe3"/>
<rect x="1237" y="27" width="4.6" height="1153" fill="#5a5a5a"/>
<rect x="1251" y="27" width="3.9" height="1153" fill="#2a2a2e"/>
<rect x="114" y="26.8" width="1146" height="19" fill="#d4d3d3"/>
<rect x="114" y="26.8" width="1146" height="5.4" fill="#737578"/>
<rect x="114" y="41.75" width="1146" height="4.1" fill="#4f4d50"/>
<rect x="114" y="1154.7" width="1146" height="6.1" fill="#88888a"/>
<rect x="114" y="1160.8" width="1146" height="11" fill="#c4c4c4"/>
<rect x="114" y="1171.7" width="1146" height="2" fill="#5a5c5c"/>
<rect x="114" y="1173.7" width="1146" height="3.8" fill="#e8e8ea"/>
<rect x="114" y="1177.5" width="1146" height="2.4" fill="#4a4a4a"/>
<path d="M114,45 L114,28 Q114,22.3 120,22.3 L135.3,22.3 L135.3,45 Z" fill="#707070"/>
<rect x="117" y="30" width="15" height="12" fill="#d6d6d6"/>
<path d="M114,45 L114,28 Q114,22.3 120,22.3 L135.3,22.3 L135.3,45 Z" fill="none" stroke="#333" stroke-width="1.6"/>
<path d="M1237.5,45 L1237.5,22.3 L1250,22.3 Q1255,22.3 1255,27 L1255,28 L1256,28 Q1260,29 1260,34 L1260,45 Z" fill="#d0d0d0" stroke="#2a2a2a" stroke-width="1.8"/>
<path d="M113,1156 L135.3,1156 L135.3,1180 L116,1180 Q113,1178 113,1172 Z" fill="#bdbdbd" stroke="#333" stroke-width="1.6"/>
<path d="M1237.5,1156 L1255,1156 Q1260,1157 1260,1163 L1260,1168 Q1260,1173 1255,1173 L1255,1178 L1237.5,1178 Z" fill="#d0d0d0" stroke="#2a2a2a" stroke-width="1.8"/>
<rect x="114.5" y="322.2" width="7" height="2" fill="#222"/>
<rect x="114.5" y="599.0" width="7" height="2" fill="#222"/>
<rect x="114.5" y="876.6" width="7" height="2" fill="#222"/>
<rect x="410.6" y="1172" width="2" height="7" fill="#222"/>
<rect x="686.0" y="1172" width="2" height="7" fill="#222"/>
<rect x="961.0" y="1172" width="2" height="7" fill="#222"/>
<text x="80.8" y="66.1" font-size="57" text-anchor="end">0</text>
<text x="97.0" y="343.4" font-size="57" text-anchor="end">10</text>
<text x="97.0" y="620.6" font-size="57" text-anchor="end">20</text>
<text x="97.0" y="900.5" font-size="57" text-anchor="end">30</text>
<text x="97.0" y="1178.4" font-size="57" text-anchor="end">40</text>
<text x="125.7" y="1248.5" font-size="57" text-anchor="middle">0</text>
<text x="410.3" y="1248.5" font-size="57" text-anchor="middle">10</text>
<text x="687.0" y="1248.5" font-size="57" text-anchor="middle">20</text>
<text x="962.0" y="1248.5" font-size="57" text-anchor="middle">30</text>
<text x="1237.8" y="1248.5" font-size="57" text-anchor="middle">40</text>
<text transform="translate(3,603.5) rotate(-90)" font-size="57" text-anchor="middle">y</text>
</svg></body></html>
